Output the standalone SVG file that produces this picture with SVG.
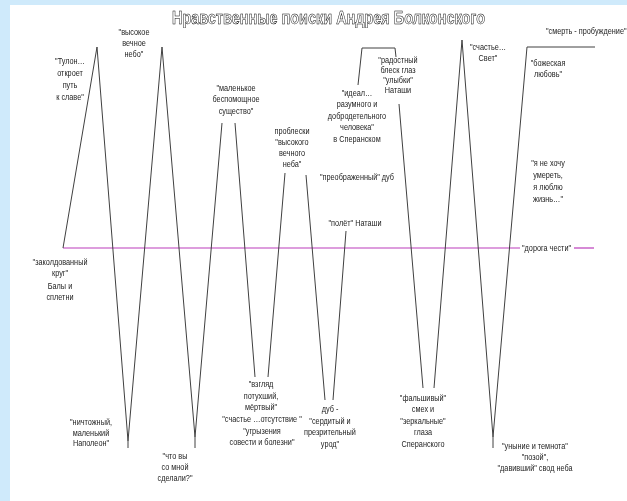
<svg xmlns="http://www.w3.org/2000/svg" width="627" height="501" viewBox="0 0 627 501">
<defs>
<filter id="mono" x="0" y="0" width="1" height="1"><feColorMatrix type="saturate" values="0"/></filter>
</defs>
<style>
.bg{fill:#cfeafb}
.page{fill:#ffffff}
.ln{stroke:#404040;stroke-width:1;fill:none}
.road{stroke:#bb3cbb;stroke-width:1.2;fill:none}
.lbl{font-family:"Liberation Sans","Arial",sans-serif;font-size:8.5px;fill:#1a1a1a;text-anchor:middle}
.lbl.st{text-anchor:start}
.title{font-family:"Liberation Sans","Arial",sans-serif;font-size:18px;font-weight:bold;fill:#fff;stroke:#000;stroke-width:0.55}
.gray{opacity:0.99}
</style>
<rect class="bg" x="0" y="0" width="627" height="501"/>
<rect class="page" x="10" y="5" width="617" height="496"/>

<g id="title" filter="url(#mono)">
<text class="title" x="172" y="24" textLength="313" lengthAdjust="spacingAndGlyphs">Нравственные поиски Андрея Болконского</text>
</g>

<g id="connectors">
<line class="road" x1="63" y1="248" x2="520" y2="248"/>
<line class="road" x1="574" y1="248" x2="594" y2="248"/>
<line class="ln" x1="63" y1="248" x2="97" y2="47"/>
<line class="ln" x1="97" y1="47" x2="128" y2="441"/>
<line class="ln" x1="128" y1="441" x2="128" y2="448"/>
<line class="ln" x1="128" y1="441" x2="162" y2="47"/>
<line class="ln" x1="162" y1="47" x2="195" y2="437"/>
<line class="ln" x1="195" y1="437" x2="195" y2="448"/>
<line class="ln" x1="195" y1="437" x2="222" y2="123"/>
<line class="ln" x1="235" y1="123" x2="255" y2="377"/>
<line class="ln" x1="268" y1="377" x2="285" y2="173"/>
<line class="ln" x1="306" y1="175" x2="325" y2="400"/>
<line class="ln" x1="346" y1="231" x2="333" y2="400"/>
<polyline class="ln" points="358,85 362,48 395,48 396,57"/>
<line class="ln" x1="399" y1="104" x2="423" y2="388"/>
<line class="ln" x1="434" y1="388" x2="462" y2="40"/>
<line class="ln" x1="462" y1="40" x2="493" y2="437"/>
<line class="ln" x1="493" y1="437" x2="493" y2="448"/>
<polyline class="ln" points="493,437 527,47 595,47"/>
</g>

<g class="gray">
<g id="n-tulon" transform="translate(70,0) scale(0.86,1)"><text class="lbl"><tspan x="0" y="64">"Тулон…</tspan><tspan x="0" y="76">откроет</tspan><tspan x="0" y="88">путь</tspan><tspan x="0" y="100">к славе"</tspan></text></g>
<g id="n-nebo" transform="translate(134,0) scale(0.86,1)"><text class="lbl"><tspan x="0" y="35">"высокое</tspan><tspan x="0" y="46">вечное</tspan><tspan x="0" y="57">небо"</tspan></text></g>
<g id="n-sushchestvo" transform="translate(236,0) scale(0.86,1)"><text class="lbl"><tspan x="0" y="91">"маленькое</tspan><tspan x="0" y="102">беспомощное</tspan><tspan x="0" y="114">существо"</tspan></text></g>
<g id="n-probleski" transform="translate(292,0) scale(0.86,1)"><text class="lbl"><tspan x="0" y="134">проблески</tspan><tspan x="0" y="145">"высокого</tspan><tspan x="0" y="156">вечного</tspan><tspan x="0" y="167">неба"</tspan></text></g>
<g id="n-dub2" transform="translate(357,0) scale(0.86,1)"><text class="lbl"><tspan x="0" y="180">"преображенный" дуб</tspan></text></g>
<g id="n-polet" transform="translate(355,0) scale(0.86,1)"><text class="lbl"><tspan x="0" y="226">"полёт" Наташи</tspan></text></g>
<g id="n-ideal" transform="translate(357,0) scale(0.86,1)"><text class="lbl"><tspan x="0" y="96">"идеал…</tspan><tspan x="0" y="107">разумного и</tspan><tspan x="0" y="119">добродетельного</tspan><tspan x="0" y="130">человека"</tspan><tspan x="0" y="142">в Сперанском</tspan></text></g>
<g id="n-radost" transform="translate(398,0) scale(0.86,1)"><text class="lbl"><tspan x="0" y="63">"радостный</tspan><tspan x="0" y="73">блеск глаз</tspan><tspan x="0" y="83">"улыбки"</tspan><tspan x="0" y="93">Наташи</tspan></text></g>
<g id="n-schastie" transform="translate(488,0) scale(0.86,1)"><text class="lbl"><tspan x="0" y="50">"счастье…</tspan><tspan x="0" y="61">Свет"</tspan></text></g>
<g id="n-smert" transform="translate(546,0) scale(0.86,1)"><text class="lbl st"><tspan x="0" y="34">"смерть - пробуждение"</tspan></text></g>
<g id="n-lyubov" transform="translate(548,0) scale(0.86,1)"><text class="lbl"><tspan x="0" y="66">"божеская</tspan><tspan x="0" y="77">любовь"</tspan></text></g>
<g id="n-zhizn" transform="translate(548,0) scale(0.86,1)"><text class="lbl"><tspan x="0" y="166">"я не хочу</tspan><tspan x="0" y="178">умереть,</tspan><tspan x="0" y="190">я люблю</tspan><tspan x="0" y="202">жизнь…"</tspan></text></g>
<g id="n-doroga" transform="translate(522,0) scale(0.86,1)"><text class="lbl st"><tspan x="0" y="251">"дорога чести"</tspan></text></g>
<g id="n-krug" transform="translate(60,0) scale(0.86,1)"><text class="lbl"><tspan x="0" y="265">"заколдованный</tspan><tspan x="0" y="276">круг"</tspan><tspan x="0" y="289">Балы и</tspan><tspan x="0" y="300">сплетни</tspan></text></g>
<g id="n-napoleon" transform="translate(91,0) scale(0.86,1)"><text class="lbl"><tspan x="0" y="425">"ничтожный,</tspan><tspan x="0" y="436">маленький</tspan><tspan x="0" y="446">Наполеон"</tspan></text></g>
<g id="n-chto" transform="translate(175,0) scale(0.86,1)"><text class="lbl"><tspan x="0" y="459">"что вы</tspan><tspan x="0" y="470">со мной</tspan><tspan x="0" y="481">сделали?"</tspan></text></g>
<g id="n-vzglyad" transform="translate(261,0) scale(0.86,1)"><text class="lbl"><tspan x="0" y="387">"взгляд</tspan><tspan x="0" y="399">потухший,</tspan><tspan x="0" y="410">мёртвый"</tspan></text></g>
<g id="n-ugryzenia" transform="translate(262,0) scale(0.86,1)"><text class="lbl"><tspan x="0" y="422">"счастье …отсутствие "</tspan><tspan x="0" y="434">"угрызения</tspan><tspan x="0" y="445">совести и болезни"</tspan></text></g>
<g id="n-dub1" transform="translate(330,0) scale(0.86,1)"><text class="lbl"><tspan x="0" y="412">дуб -</tspan><tspan x="0" y="424">"сердитый и</tspan><tspan x="0" y="435">презрительный</tspan><tspan x="0" y="447">урод"</tspan></text></g>
<g id="n-falsh" transform="translate(423,0) scale(0.86,1)"><text class="lbl"><tspan x="0" y="401">"фальшивый"</tspan><tspan x="0" y="412">смех и</tspan><tspan x="0" y="424">"зеркальные"</tspan><tspan x="0" y="435">глаза</tspan><tspan x="0" y="447">Сперанского</tspan></text></g>
<g id="n-unynie" transform="translate(535,0) scale(0.86,1)"><text class="lbl"><tspan x="0" y="449">"уныние и темнота"</tspan><tspan x="0" y="460">"позой",</tspan><tspan x="0" y="471">"давивший" свод неба</tspan></text></g>
</g>
</svg>
